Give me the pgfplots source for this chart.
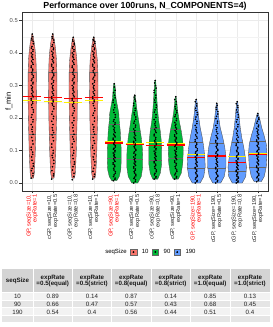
\documentclass[border=0pt]{standalone}
\usepackage{pgfplots}
\pgfplotsset{compat=1.18}
\usepackage{fontspec}
\setmainfont{Liberation Sans}
\definecolor{vred}{HTML}{F8766D}
\definecolor{vgreen}{HTML}{00BA38}
\definecolor{vblue}{HTML}{619CFF}
\definecolor{gpred}{HTML}{FF0000}
\definecolor{g20}{HTML}{333333}
\definecolor{g30}{HTML}{4D4D4D}
\definecolor{g80}{HTML}{D4D4D4}
\definecolor{g90}{HTML}{E5E5E5}
\definecolor{g95}{HTML}{F2F2F2}
\definecolor{gridc}{HTML}{EBEBEB}
\newcommand{\gp}[2]{\textcolor{gpred}{#1}\\\textcolor{gpred}{#2}}
\pgfplotsset{
  vio/.style={draw=black!70, line width=0.35pt, forget plot},
  qline/.style={black!60, line width=0.35pt, forget plot},
  dots/.style={only marks, mark=*, mark size=0.6pt, black, forget plot},
  medl/.style={yellow, line width=1.1pt, forget plot},
  meanl/.style={red, line width=1.1pt, forget plot},
}
\begin{document}
\begin{tikzpicture}[x=1pt,y=1pt]
\useasboundingbox (0,0) rectangle (273,327);
\begin{axis}[
  at={(22pt,136pt)}, anchor=south west,
  scale only axis, width=246pt, height=179pt,
  xmin=0.5, xmax=12.5, ymin=-0.0246, ymax=0.526,
  axis line style={g20, line width=0.5pt},
  xtick={1,2,3,4,5,6,7,8,9,10,11,12},
  xticklabels={
    {\gp{GP, seqSize=10,}{expRate=1}},
    {cGP, seqSize=10,\\expRate=0.5},
    {cGP, seqSize=10,\\expRate=0.8},
    {cGP, seqSize=10,\\expRate=1},
    {\gp{GP, seqSize=90,}{expRate=1}},
    {cGP, seqSize=90,\\expRate=0.5},
    {cGP, seqSize=90,\\expRate=0.8},
    {cGP, seqSize=90,\\expRate=1},
    {\gp{GP, seqSize=190,}{expRate=1}},
    {cGP, seqSize=190,\\expRate=0.5},
    {cGP, seqSize=190,\\expRate=0.8},
    {cGP, seqSize=190,\\expRate=1}},
  xticklabel style={rotate=90, anchor=east, align=right, font=\fontsize{5.7}{6}\selectfont, text=black!85, inner sep=1pt},
  ytick={0,0.1,0.2,0.3,0.4,0.5},
  minor ytick={0.05,0.15,0.25,0.35,0.45},
  /pgf/number format/fixed, /pgf/number format/fixed zerofill,
  /pgf/number format/precision=1, /pgf/number format/assume math mode=true,
  yticklabel style={font=\fontsize{5.8}{6}\selectfont, text=g30, inner sep=1.5pt},
  xmajorgrids=true, ymajorgrids=true, yminorgrids=true,
  major grid style={color=gridc, line width=0.5pt},
  minor grid style={color=gridc!60, line width=0.3pt},
  tick style={g20, line width=0.4pt}, major tick length=2.5pt, minor tick length=0pt,
  tick align=outside, xtick pos=left, ytick pos=left,
  legend style={at={(0.516,-0.341)}, anchor=center, draw=none, fill=none,
    font=\fontsize{6}{6}\selectfont, legend columns=-1,
    /tikz/every even column/.append style={column sep=1.5pt},
    /tikz/every odd column/.append style={column sep=3pt}},
  legend image code/.code={\draw[#1, draw=black!60, line width=0.3pt] (0pt,-3.2pt) rectangle (6.4pt,3.2pt); \fill[black] (3.2pt,0pt) circle (0.7pt);},
]
% ---------- violins ----------
\addplot[vio, fill=vred] coordinates {(1.06,0.015)(1.10,0.03)(1.125,0.06)(1.15,0.10)(1.17,0.15)(1.19,0.20)(1.20,0.25)(1.205,0.30)(1.20,0.34)(1.18,0.38)(1.14,0.41)(1.10,0.43)(1.06,0.445)(1.02,0.458)(0.98,0.458)(0.94,0.445)(0.90,0.43)(0.86,0.41)(0.82,0.38)(0.80,0.34)(0.795,0.30)(0.80,0.25)(0.81,0.20)(0.83,0.15)(0.85,0.10)(0.875,0.06)(0.90,0.03)(0.94,0.015)(1.06,0.015)};
\addplot[vio, fill=vred] coordinates {(2.06,0.015)(2.10,0.03)(2.125,0.06)(2.15,0.10)(2.17,0.15)(2.19,0.20)(2.20,0.25)(2.205,0.30)(2.20,0.34)(2.18,0.38)(2.14,0.41)(2.10,0.43)(2.06,0.445)(2.02,0.458)(1.98,0.458)(1.94,0.445)(1.90,0.43)(1.86,0.41)(1.82,0.38)(1.80,0.34)(1.795,0.30)(1.80,0.25)(1.81,0.20)(1.83,0.15)(1.85,0.10)(1.875,0.06)(1.90,0.03)(1.94,0.015)(2.06,0.015)};
\addplot[vio, fill=vred] coordinates {(3.06,0.015)(3.10,0.03)(3.125,0.06)(3.15,0.10)(3.17,0.15)(3.19,0.20)(3.20,0.25)(3.205,0.30)(3.20,0.34)(3.18,0.375)(3.14,0.40)(3.10,0.42)(3.06,0.436)(3.02,0.448)(2.98,0.448)(2.94,0.436)(2.90,0.42)(2.86,0.40)(2.82,0.375)(2.80,0.34)(2.795,0.30)(2.80,0.25)(2.81,0.20)(2.83,0.15)(2.85,0.10)(2.875,0.06)(2.90,0.03)(2.94,0.015)(3.06,0.015)};
\addplot[vio, fill=vred] coordinates {(4.06,0.015)(4.10,0.03)(4.125,0.06)(4.15,0.10)(4.17,0.15)(4.19,0.20)(4.20,0.25)(4.205,0.30)(4.20,0.34)(4.18,0.375)(4.14,0.40)(4.10,0.42)(4.06,0.436)(4.02,0.448)(3.98,0.448)(3.94,0.436)(3.90,0.42)(3.86,0.40)(3.82,0.375)(3.80,0.34)(3.795,0.30)(3.80,0.25)(3.81,0.20)(3.83,0.15)(3.85,0.10)(3.875,0.06)(3.90,0.03)(3.94,0.015)(4.06,0.015)};
\addplot[vio, fill=vgreen] coordinates {(5.122,0.007)(5.244,0.02)(5.317,0.04)(5.341,0.07)(5.341,0.10)(5.317,0.13)(5.293,0.16)(5.244,0.19)(5.22,0.215)(5.146,0.24)(5.088,0.26)(5.063,0.28)(5.049,0.295)(5.024,0.305)(4.976,0.305)(4.951,0.295)(4.937,0.28)(4.912,0.26)(4.854,0.24)(4.78,0.215)(4.756,0.19)(4.707,0.16)(4.683,0.13)(4.659,0.10)(4.659,0.07)(4.683,0.04)(4.756,0.02)(4.878,0.007)(5.122,0.007)};
\addplot[vio, fill=vgreen] coordinates {(6.146,0.0)(6.317,0.02)(6.39,0.05)(6.39,0.08)(6.366,0.11)(6.317,0.14)(6.244,0.17)(6.171,0.20)(6.098,0.23)(6.059,0.25)(6.024,0.27)(5.976,0.27)(5.941,0.25)(5.902,0.23)(5.829,0.20)(5.756,0.17)(5.683,0.14)(5.634,0.11)(5.61,0.08)(5.61,0.05)(5.683,0.02)(5.854,0.0)(6.146,0.0)};
\addplot[vio, fill=vgreen] coordinates {(7.122,0.012)(7.244,0.03)(7.317,0.06)(7.317,0.10)(7.293,0.13)(7.244,0.16)(7.171,0.19)(7.122,0.22)(7.088,0.25)(7.059,0.28)(7.039,0.30)(7.02,0.315)(6.98,0.315)(6.961,0.30)(6.941,0.28)(6.912,0.25)(6.878,0.22)(6.829,0.19)(6.756,0.16)(6.707,0.13)(6.683,0.10)(6.683,0.06)(6.756,0.03)(6.878,0.012)(7.122,0.012)};
\addplot[vio, fill=vgreen] coordinates {(8.122,0.012)(8.268,0.03)(8.341,0.06)(8.366,0.10)(8.341,0.13)(8.268,0.16)(8.171,0.19)(8.098,0.22)(8.059,0.245)(8.02,0.265)(7.98,0.265)(7.941,0.245)(7.902,0.22)(7.829,0.19)(7.732,0.16)(7.659,0.13)(7.634,0.10)(7.659,0.06)(7.732,0.03)(7.878,0.012)(8.122,0.012)};
\addplot[vio, fill=vblue] coordinates {(9.195,0.0)(9.366,0.02)(9.439,0.05)(9.415,0.08)(9.366,0.11)(9.293,0.14)(9.195,0.17)(9.122,0.20)(9.088,0.22)(9.059,0.24)(9.02,0.257)(8.98,0.257)(8.941,0.24)(8.912,0.22)(8.878,0.20)(8.805,0.17)(8.707,0.14)(8.634,0.11)(8.585,0.08)(8.561,0.05)(8.634,0.02)(8.805,0.0)(9.195,0.0)};
\addplot[vio, fill=vblue] coordinates {(10.195,0.0)(10.366,0.02)(10.449,0.05)(10.449,0.08)(10.39,0.11)(10.293,0.14)(10.171,0.17)(10.098,0.20)(10.059,0.225)(10.02,0.245)(9.98,0.245)(9.941,0.225)(9.902,0.20)(9.829,0.17)(9.707,0.14)(9.61,0.11)(9.551,0.08)(9.551,0.05)(9.634,0.02)(9.805,0.0)(10.195,0.0)};
\addplot[vio, fill=vblue] coordinates {(11.244,0.0)(11.415,0.02)(11.449,0.05)(11.39,0.08)(11.317,0.11)(11.22,0.14)(11.146,0.17)(11.098,0.20)(11.059,0.23)(11.02,0.25)(10.98,0.25)(10.941,0.23)(10.902,0.20)(10.854,0.17)(10.78,0.14)(10.683,0.11)(10.61,0.08)(10.551,0.05)(10.585,0.02)(10.756,0.0)(11.244,0.0)};
\addplot[vio, fill=vblue] coordinates {(12.171,0.004)(12.317,0.02)(12.415,0.05)(12.449,0.09)(12.415,0.12)(12.293,0.15)(12.195,0.17)(12.122,0.19)(12.063,0.205)(12.02,0.214)(11.98,0.214)(11.937,0.205)(11.878,0.19)(11.805,0.17)(11.707,0.15)(11.585,0.12)(11.551,0.09)(11.585,0.05)(11.683,0.02)(11.829,0.004)(12.171,0.004)};
% ---------- quantile lines ----------
\addplot[qline] coordinates {(0.83,0.15)(1.17,0.15)};
\addplot[qline] coordinates {(0.80,0.34)(1.20,0.34)};
\addplot[qline] coordinates {(1.83,0.15)(2.17,0.15)};
\addplot[qline] coordinates {(1.80,0.34)(2.20,0.34)};
\addplot[qline] coordinates {(2.83,0.15)(3.17,0.15)};
\addplot[qline] coordinates {(2.80,0.34)(3.20,0.34)};
\addplot[qline] coordinates {(3.83,0.15)(4.17,0.15)};
\addplot[qline] coordinates {(3.80,0.34)(4.20,0.34)};
\addplot[qline] coordinates {(4.659,0.075)(5.341,0.075)};
\addplot[qline] coordinates {(4.74,0.18)(5.26,0.18)};
\addplot[qline] coordinates {(5.61,0.074)(6.39,0.074)};
\addplot[qline] coordinates {(5.73,0.158)(6.27,0.158)};
\addplot[qline] coordinates {(6.683,0.07)(7.317,0.07)};
\addplot[qline] coordinates {(6.78,0.17)(7.22,0.17)};
\addplot[qline] coordinates {(7.65,0.075)(8.35,0.075)};
\addplot[qline] coordinates {(7.75,0.165)(8.25,0.165)};
\addplot[qline] coordinates {(8.565,0.046)(9.435,0.046)};
\addplot[qline] coordinates {(8.67,0.125)(9.33,0.125)};
\addplot[qline] coordinates {(9.555,0.046)(10.445,0.046)};
\addplot[qline] coordinates {(9.65,0.123)(10.35,0.123)};
\addplot[qline] coordinates {(10.57,0.035)(11.43,0.035)};
\addplot[qline] coordinates {(10.73,0.125)(11.27,0.125)};
\addplot[qline] coordinates {(11.585,0.05)(12.415,0.05)};
\addplot[qline] coordinates {(11.62,0.13)(12.38,0.13)};
% ---------- points ----------
\addplot[dots] coordinates {(0.95,0.015)(1.04,0.03)(0.99,0.045)(1.05,0.06)(0.97,0.08)(1.02,0.095)(0.95,0.11)(1.01,0.13)(1.04,0.15)(0.98,0.165)(0.95,0.18)(1.04,0.195)(0.99,0.21)(1.05,0.225)(0.97,0.24)(1.02,0.25)(0.95,0.26)(1.01,0.27)(1.04,0.28)(0.98,0.29)(0.95,0.30)(1.04,0.31)(0.99,0.32)(1.05,0.33)(0.97,0.34)(1.02,0.35)(0.95,0.36)(1.01,0.37)(1.04,0.38)(0.98,0.39)(0.95,0.40)(1.04,0.41)(0.99,0.42)(1.05,0.435)(0.97,0.445)(1.00,0.458)};
\addplot[dots] coordinates {(1.03,0.022)(0.96,0.038)(1.05,0.052)(0.99,0.07)(1.02,0.088)(0.95,0.102)(1.04,0.12)(0.97,0.14)(1.00,0.158)(1.01,0.172)(1.03,0.188)(0.96,0.202)(1.05,0.218)(0.99,0.232)(1.02,0.245)(0.95,0.255)(1.04,0.265)(0.97,0.275)(1.00,0.285)(1.01,0.295)(1.03,0.305)(0.96,0.315)(1.05,0.325)(0.99,0.335)(1.02,0.345)(0.95,0.355)(1.04,0.365)(0.97,0.375)(1.00,0.385)(1.01,0.395)(1.03,0.405)(0.96,0.415)(1.05,0.428)(0.99,0.44)(1.02,0.45)};
\addplot[dots] coordinates {(1.95,0.012)(2.04,0.028)(1.99,0.05)(2.05,0.07)(1.97,0.085)(2.02,0.10)(1.95,0.12)(2.01,0.14)(2.04,0.155)(1.98,0.17)(1.95,0.19)(2.04,0.205)(1.99,0.22)(2.05,0.235)(1.97,0.245)(2.02,0.255)(1.95,0.265)(2.01,0.275)(2.04,0.285)(1.98,0.295)(1.95,0.305)(2.04,0.315)(1.99,0.325)(2.05,0.335)(1.97,0.345)(2.02,0.355)(1.95,0.365)(2.01,0.375)(2.04,0.385)(1.98,0.395)(1.95,0.405)(2.04,0.415)(1.99,0.425)(2.05,0.44)(1.97,0.45)(2.00,0.458)};
\addplot[dots] coordinates {(2.03,0.022)(1.96,0.038)(2.05,0.06)(1.99,0.078)(2.02,0.092)(1.95,0.11)(2.04,0.13)(1.97,0.148)(2.00,0.162)(2.01,0.18)(2.03,0.198)(1.96,0.212)(2.05,0.228)(1.99,0.24)(2.02,0.25)(1.95,0.26)(2.04,0.27)(1.97,0.28)(2.00,0.29)(2.01,0.30)(2.03,0.31)(1.96,0.32)(2.05,0.33)(1.99,0.34)(2.02,0.35)(1.95,0.36)(2.04,0.37)(1.97,0.38)(2.00,0.39)(2.01,0.40)(2.03,0.41)(1.96,0.42)(2.05,0.432)(1.99,0.445)};
\addplot[dots] coordinates {(2.95,0.01)(3.04,0.03)(2.99,0.05)(3.05,0.065)(2.97,0.085)(3.02,0.10)(2.95,0.12)(3.01,0.135)(3.04,0.15)(2.98,0.17)(2.95,0.185)(3.04,0.20)(2.99,0.215)(3.05,0.23)(2.97,0.24)(3.02,0.25)(2.95,0.26)(3.01,0.27)(3.04,0.28)(2.98,0.29)(2.95,0.30)(3.04,0.31)(2.99,0.32)(3.05,0.33)(2.97,0.34)(3.02,0.35)(2.95,0.36)(3.01,0.37)(3.04,0.38)(2.98,0.39)(2.95,0.40)(3.04,0.41)(2.99,0.42)(3.05,0.43)(2.97,0.44)(3.00,0.448)};
\addplot[dots] coordinates {(3.03,0.02)(2.96,0.04)(3.05,0.058)(2.99,0.075)(3.02,0.092)(2.95,0.11)(3.04,0.128)(2.97,0.142)(3.00,0.16)(3.01,0.178)(3.03,0.192)(2.96,0.208)(3.05,0.222)(2.99,0.235)(3.02,0.245)(2.95,0.255)(3.04,0.265)(2.97,0.275)(3.00,0.285)(3.01,0.295)(3.03,0.305)(2.96,0.315)(3.05,0.325)(2.99,0.335)(3.02,0.345)(2.95,0.355)(3.04,0.365)(2.97,0.375)(3.00,0.385)(3.01,0.395)(3.03,0.405)(2.96,0.415)(3.05,0.425)(2.99,0.436)};
\addplot[dots] coordinates {(3.95,0.012)(4.04,0.027)(3.99,0.045)(4.05,0.065)(3.97,0.08)(4.02,0.10)(3.95,0.115)(4.01,0.13)(4.04,0.15)(3.98,0.165)(3.95,0.18)(4.04,0.20)(3.99,0.215)(4.05,0.23)(3.97,0.245)(4.02,0.255)(3.95,0.265)(4.01,0.275)(4.04,0.285)(3.98,0.295)(3.95,0.305)(4.04,0.315)(3.99,0.325)(4.05,0.335)(3.97,0.345)(4.02,0.355)(3.95,0.365)(4.01,0.375)(4.04,0.385)(3.98,0.395)(3.95,0.405)(4.04,0.415)(3.99,0.425)(4.05,0.435)(3.97,0.442)(4.00,0.448)};
\addplot[dots] coordinates {(4.03,0.02)(3.96,0.036)(4.05,0.055)(3.99,0.072)(4.02,0.09)(3.95,0.108)(4.04,0.122)(3.97,0.14)(4.00,0.158)(4.01,0.172)(4.03,0.19)(3.96,0.208)(4.05,0.222)(3.99,0.238)(4.02,0.25)(3.95,0.26)(4.04,0.27)(3.97,0.28)(4.00,0.29)(4.01,0.30)(4.03,0.31)(3.96,0.32)(4.05,0.33)(3.99,0.34)(4.02,0.35)(3.95,0.36)(4.04,0.37)(3.97,0.38)(4.00,0.39)(4.01,0.40)(4.03,0.41)(3.96,0.42)(4.05,0.43)(3.99,0.438)};
\addplot[dots] coordinates {(4.95,0.007)(5.04,0.015)(4.99,0.025)(5.05,0.035)(4.97,0.045)(5.02,0.055)(4.95,0.062)(5.01,0.07)(5.04,0.078)(4.98,0.085)(4.95,0.092)(5.04,0.10)(4.99,0.107)(5.05,0.115)(4.97,0.122)(5.02,0.13)(4.95,0.138)(5.01,0.146)(5.04,0.155)(4.98,0.165)(4.95,0.175)(5.04,0.185)(4.99,0.195)(5.05,0.21)(4.97,0.225)(5.02,0.24)(4.95,0.255)(5.01,0.27)(5.04,0.285)(5.00,0.305)};
\addplot[dots] coordinates {(5.03,0.011)(4.96,0.02)(5.05,0.03)(4.99,0.04)(5.02,0.05)(4.95,0.058)(5.04,0.066)(4.97,0.074)(5.00,0.081)(5.01,0.088)(5.03,0.096)(4.96,0.104)(5.05,0.111)(4.99,0.118)(5.02,0.126)(4.95,0.134)(5.04,0.142)(4.97,0.15)(5.00,0.16)(5.01,0.17)(5.03,0.18)(4.96,0.19)(5.05,0.202)(4.99,0.217)(5.02,0.232)(4.95,0.248)(5.04,0.262)(4.97,0.278)(5.00,0.295)};
\addplot[dots] coordinates {(5.95,0.0)(6.04,0.01)(5.99,0.018)(6.05,0.027)(5.97,0.035)(6.02,0.043)(5.95,0.05)(6.01,0.058)(6.04,0.065)(5.98,0.072)(5.95,0.08)(6.04,0.088)(5.99,0.096)(6.05,0.104)(5.97,0.112)(6.02,0.12)(5.95,0.128)(6.01,0.137)(6.04,0.146)(5.98,0.156)(5.95,0.166)(6.04,0.178)(5.99,0.19)(6.05,0.203)(5.97,0.216)(6.02,0.23)(5.95,0.245)(6.01,0.258)(6.00,0.27)};
\addplot[dots] coordinates {(6.03,0.005)(5.96,0.014)(6.05,0.022)(5.99,0.031)(6.02,0.039)(5.95,0.046)(6.04,0.054)(5.97,0.061)(6.00,0.068)(6.01,0.076)(6.03,0.084)(5.96,0.092)(6.05,0.10)(5.99,0.108)(6.02,0.116)(5.95,0.124)(6.04,0.132)(5.97,0.141)(6.00,0.151)(6.01,0.161)(6.03,0.172)(5.96,0.184)(6.05,0.196)(5.99,0.21)(6.02,0.223)(5.95,0.238)(6.04,0.252)(5.97,0.264)};
\addplot[dots] coordinates {(6.95,0.012)(7.04,0.02)(6.99,0.03)(7.05,0.04)(6.97,0.05)(7.02,0.058)(6.95,0.066)(7.01,0.074)(7.04,0.082)(6.98,0.09)(6.95,0.098)(7.04,0.106)(6.99,0.114)(7.05,0.122)(6.97,0.13)(7.02,0.14)(6.95,0.15)(7.01,0.16)(7.04,0.17)(6.98,0.182)(6.95,0.195)(7.04,0.21)(6.99,0.225)(7.05,0.24)(6.97,0.255)(7.02,0.27)(6.95,0.285)(7.01,0.30)(7.00,0.315)};
\addplot[dots] coordinates {(7.03,0.016)(6.96,0.025)(7.05,0.035)(6.99,0.045)(7.02,0.054)(6.95,0.062)(7.04,0.07)(6.97,0.078)(7.00,0.086)(7.01,0.094)(7.03,0.102)(6.96,0.11)(7.05,0.118)(6.99,0.126)(7.02,0.135)(6.95,0.145)(7.04,0.155)(6.97,0.165)(7.00,0.176)(7.01,0.188)(7.03,0.202)(6.96,0.218)(7.05,0.232)(6.99,0.248)(7.02,0.262)(6.95,0.278)(7.04,0.292)(6.97,0.308)};
\addplot[dots] coordinates {(7.95,0.012)(8.04,0.02)(7.99,0.03)(8.05,0.04)(7.97,0.05)(8.02,0.06)(7.95,0.068)(8.01,0.076)(8.04,0.084)(7.98,0.092)(7.95,0.10)(8.04,0.108)(7.99,0.116)(8.05,0.124)(7.97,0.132)(8.02,0.14)(7.95,0.148)(8.01,0.157)(8.04,0.166)(7.98,0.176)(7.95,0.186)(8.04,0.198)(7.99,0.21)(8.05,0.222)(7.97,0.235)(8.02,0.25)(8.00,0.265)};
\addplot[dots] coordinates {(8.03,0.016)(7.96,0.025)(8.05,0.035)(7.99,0.045)(8.02,0.055)(7.95,0.064)(8.04,0.072)(7.97,0.08)(8.00,0.088)(8.01,0.096)(8.03,0.104)(7.96,0.112)(8.05,0.12)(7.99,0.128)(8.02,0.136)(7.95,0.144)(8.04,0.152)(7.97,0.161)(8.00,0.171)(8.01,0.181)(8.03,0.192)(7.96,0.204)(8.05,0.216)(7.99,0.228)(8.02,0.242)(7.95,0.257)};
\addplot[dots] coordinates {(8.95,0.0)(9.04,0.008)(8.99,0.016)(9.05,0.024)(8.97,0.032)(9.02,0.04)(8.95,0.048)(9.01,0.056)(9.04,0.064)(8.98,0.072)(8.95,0.08)(9.04,0.088)(8.99,0.096)(9.05,0.105)(8.97,0.114)(9.02,0.123)(8.95,0.133)(9.01,0.143)(9.04,0.154)(8.98,0.165)(8.95,0.177)(9.04,0.19)(8.99,0.203)(9.05,0.217)(8.97,0.23)(9.02,0.244)(9.00,0.257)};
\addplot[dots] coordinates {(9.03,0.004)(8.96,0.012)(9.05,0.02)(8.99,0.028)(9.02,0.036)(8.95,0.044)(9.04,0.052)(8.97,0.06)(9.00,0.068)(9.01,0.076)(9.03,0.084)(8.96,0.092)(9.05,0.10)(8.99,0.11)(9.02,0.118)(8.95,0.128)(9.04,0.138)(8.97,0.148)(9.00,0.16)(9.01,0.171)(9.03,0.183)(8.96,0.196)(9.05,0.21)(8.99,0.223)(9.02,0.237)(8.95,0.25)};
\addplot[dots] coordinates {(9.95,0.0)(10.04,0.008)(9.99,0.016)(10.05,0.024)(9.97,0.032)(10.02,0.04)(9.95,0.048)(10.01,0.056)(10.04,0.064)(9.98,0.072)(9.95,0.08)(10.04,0.088)(9.99,0.096)(10.05,0.104)(9.97,0.113)(10.02,0.122)(9.95,0.131)(10.01,0.141)(10.04,0.152)(9.98,0.164)(9.95,0.177)(10.04,0.19)(9.99,0.205)(10.05,0.22)(9.97,0.233)(10.00,0.245)};
\addplot[dots] coordinates {(10.03,0.004)(9.96,0.012)(10.05,0.02)(9.99,0.028)(10.02,0.036)(9.95,0.044)(10.04,0.052)(9.97,0.06)(10.00,0.068)(10.01,0.076)(10.03,0.084)(9.96,0.092)(10.05,0.10)(9.99,0.108)(10.02,0.117)(9.95,0.126)(10.04,0.136)(9.97,0.146)(10.00,0.158)(10.01,0.17)(10.03,0.184)(9.96,0.198)(10.05,0.212)(9.99,0.226)(10.02,0.239)};
\addplot[dots] coordinates {(10.95,0.0)(11.04,0.006)(10.99,0.012)(11.05,0.018)(10.97,0.025)(11.02,0.032)(10.95,0.039)(11.01,0.046)(11.04,0.053)(10.98,0.06)(10.95,0.068)(11.04,0.076)(10.99,0.084)(11.05,0.092)(10.97,0.10)(11.02,0.11)(10.95,0.12)(11.01,0.13)(11.04,0.141)(10.98,0.153)(10.95,0.166)(11.04,0.18)(10.99,0.195)(11.05,0.21)(10.97,0.225)(11.02,0.238)(11.00,0.25)};
\addplot[dots] coordinates {(11.03,0.003)(10.96,0.009)(11.05,0.015)(10.99,0.021)(11.02,0.028)(10.95,0.035)(11.04,0.042)(10.97,0.049)(11.00,0.056)(11.01,0.064)(11.03,0.072)(10.96,0.08)(11.05,0.088)(10.99,0.096)(11.02,0.105)(10.95,0.115)(11.04,0.125)(10.97,0.135)(11.00,0.147)(11.01,0.16)(11.03,0.173)(10.96,0.188)(11.05,0.202)(10.99,0.218)(11.02,0.232)(10.95,0.244)};
\addplot[dots] coordinates {(11.95,0.004)(12.04,0.012)(11.99,0.02)(12.05,0.028)(11.97,0.036)(12.02,0.044)(11.95,0.052)(12.01,0.06)(12.04,0.068)(11.98,0.076)(11.95,0.084)(12.04,0.092)(11.99,0.10)(12.05,0.108)(11.97,0.116)(12.02,0.124)(11.95,0.132)(12.01,0.14)(12.04,0.149)(11.98,0.158)(11.95,0.168)(12.04,0.178)(11.99,0.19)(12.05,0.20)(12.00,0.214)};
\addplot[dots] coordinates {(12.03,0.008)(11.96,0.016)(12.05,0.024)(11.99,0.032)(12.02,0.04)(11.95,0.048)(12.04,0.056)(11.97,0.064)(12.00,0.072)(12.01,0.08)(12.03,0.088)(11.96,0.096)(12.05,0.104)(11.99,0.112)(12.02,0.12)(11.95,0.128)(12.04,0.136)(11.97,0.145)(12.00,0.154)(12.01,0.163)(12.03,0.173)(11.96,0.184)(12.05,0.195)(11.99,0.207)};
% ---------- medians (yellow) and means (red) ----------
\addplot[medl] coordinates {(0.55,0.255)(1.45,0.255)};
\addplot[medl] coordinates {(1.55,0.250)(2.45,0.250)};
\addplot[medl] coordinates {(2.55,0.249)(3.45,0.249)};
\addplot[medl] coordinates {(3.55,0.253)(4.45,0.253)};
\addplot[medl] coordinates {(4.55,0.128)(5.45,0.128)};
\addplot[medl] coordinates {(5.55,0.122)(6.45,0.122)};
\addplot[medl] coordinates {(6.55,0.125)(7.45,0.125)};
\addplot[medl] coordinates {(7.55,0.120)(8.45,0.120)};
\addplot[medl] coordinates {(8.55,0.087)(9.45,0.087)};
\addplot[medl] coordinates {(9.55,0.085)(10.45,0.085)};
\addplot[medl] coordinates {(10.55,0.081)(11.45,0.081)};
\addplot[medl] coordinates {(11.55,0.090)(12.45,0.090)};
\addplot[meanl] coordinates {(0.55,0.265)(1.45,0.265)};
\addplot[meanl] coordinates {(1.55,0.263)(2.45,0.263)};
\addplot[meanl] coordinates {(2.55,0.259)(3.45,0.259)};
\addplot[meanl] coordinates {(3.55,0.262)(4.45,0.262)};
\addplot[meanl] coordinates {(4.55,0.123)(5.45,0.123)};
\addplot[meanl] coordinates {(5.55,0.118)(6.45,0.118)};
\addplot[meanl] coordinates {(6.55,0.116)(7.45,0.116)};
\addplot[meanl] coordinates {(7.55,0.117)(8.45,0.117)};
\addplot[meanl] coordinates {(8.55,0.079)(9.45,0.079)};
\addplot[meanl] coordinates {(9.55,0.083)(10.45,0.083)};
\addplot[meanl] coordinates {(10.55,0.062)(11.45,0.062)};
\addplot[meanl] coordinates {(11.55,0.088)(12.45,0.088)};
% ---------- legend ----------
\addlegendimage{empty legend}\addlegendentry{seqSize}
\addlegendimage{fill=vred}\addlegendentry{10}
\addlegendimage{fill=vgreen}\addlegendentry{90}
\addlegendimage{fill=vblue}\addlegendentry{190}
\end{axis}
% title and y label
\node[font=\bfseries\fontsize{8.8}{10}\selectfont, text=black] at (145,321) {Performance over 100runs, N\_COMPONENTS=4)};
\node[rotate=90, font=\fontsize{7.5}{9}\selectfont] at (9,225.5) {f\_min};
% ---------- table ----------
\fill[g80] (2,34.5) rectangle (270,57.5);
\fill[g95] (2,26.8) rectangle (270,34.5);
\fill[g90] (2,19.1) rectangle (270,26.8);
\fill[g95] (2,11.4) rectangle (270,19.1);
\fill[g90] (2,5) rectangle (270,11.4);
\foreach \xx in {33,72.5,111.5,151,190.5,230} {\draw[white, line width=0.9pt] (\xx,5) -- (\xx,57.5);}
\foreach \yy in {34.5,26.8,19.1,11.4} {\draw[white, line width=0.9pt] (2,\yy) -- (270,\yy);}
\begin{scope}[every node/.style={font=\bfseries\fontsize{6.2}{6.6}\selectfont, align=center, text=black!90, inner sep=0pt}]
\node at (17.5,46) {seqSize};
\node at (52.75,46) {expRate\\=0.5(equal)};
\node at (92,46) {expRate\\=0.5(strict)};
\node at (131.25,46) {expRate\\=0.8(equal)};
\node at (170.75,46) {expRate\\=0.8(strict)};
\node at (210.25,46) {expRate\\=1.0(equal)};
\node at (250,46) {expRate\\=1.0(strict)};
\end{scope}
\begin{scope}[every node/.style={font=\fontsize{6.2}{6.6}\selectfont, text=black!85, inner sep=0pt}]
\node at (17.5,30.5) {10};   \node at (52.75,30.5) {0.89}; \node at (92,30.5) {0.14}; \node at (131.25,30.5) {0.87}; \node at (170.75,30.5) {0.14}; \node at (210.25,30.5) {0.85}; \node at (250,30.5) {0.13};
\node at (17.5,22.8) {90};   \node at (52.75,22.8) {0.66}; \node at (92,22.8) {0.47}; \node at (131.25,22.8) {0.57}; \node at (170.75,22.8) {0.43}; \node at (210.25,22.8) {0.68}; \node at (250,22.8) {0.45};
\node at (17.5,15.1) {190};  \node at (52.75,15.1) {0.54}; \node at (92,15.1) {0.4};  \node at (131.25,15.1) {0.56}; \node at (170.75,15.1) {0.44}; \node at (210.25,15.1) {0.51}; \node at (250,15.1) {0.4};
\end{scope}
\end{tikzpicture}
\end{document}
